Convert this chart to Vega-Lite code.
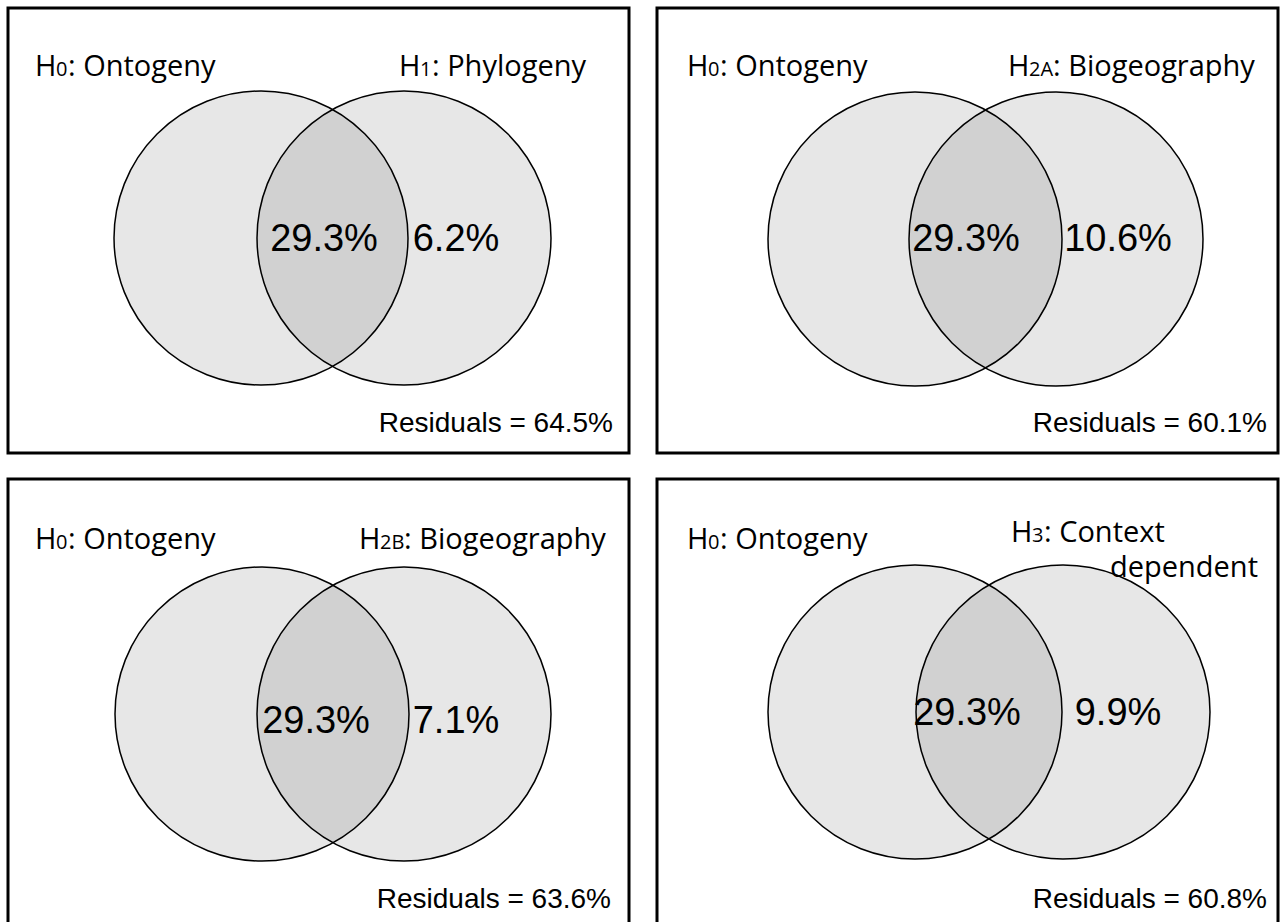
{
  "$schema": "https://vega.github.io/schema/vega-lite/v6.json",
  "background": "white",
  "padding": {"left": 6, "top": 6, "right": 0, "bottom": 0},
  "autosize": {"type": "pad"},
  "config": {
    "view": {"stroke": "black", "strokeWidth": 3}
  },
  "data": {
    "values": [
      {"panel": "A", "kind": "circle", "set": "Ontogeny", "x": 253, "y": 230},
      {"panel": "A", "kind": "circle", "set": "Phylogeny", "x": 396, "y": 230},
      {"panel": "B", "kind": "circle", "set": "Ontogeny", "x": 258, "y": 231},
      {"panel": "B", "kind": "circle", "set": "Biogeography A", "x": 399, "y": 231},
      {"panel": "C", "kind": "circle", "set": "Ontogeny", "x": 254, "y": 235},
      {"panel": "C", "kind": "circle", "set": "Biogeography B", "x": 396, "y": 235},
      {"panel": "D", "kind": "circle", "set": "Ontogeny", "x": 258, "y": 233},
      {"panel": "D", "kind": "circle", "set": "Context dependent", "x": 406, "y": 233},

      {"panel": "A", "kind": "label", "part": "H", "text": "H", "x": 27, "y": 68},
      {"panel": "A", "kind": "label", "part": "sub", "text": "0", "x": 48, "y": 68},
      {"panel": "A", "kind": "label", "part": "rest", "text": ": Ontogeny", "x": 60, "y": 68},
      {"panel": "A", "kind": "label", "part": "H", "text": "H", "x": 391, "y": 68},
      {"panel": "A", "kind": "label", "part": "sub", "text": "1", "x": 412, "y": 68},
      {"panel": "A", "kind": "label", "part": "rest", "text": ": Phylogeny", "x": 424, "y": 68},

      {"panel": "B", "kind": "label", "part": "H", "text": "H", "x": 30, "y": 68},
      {"panel": "B", "kind": "label", "part": "sub", "text": "0", "x": 51, "y": 68},
      {"panel": "B", "kind": "label", "part": "rest", "text": ": Ontogeny", "x": 63, "y": 68},
      {"panel": "B", "kind": "label", "part": "H", "text": "H", "x": 351, "y": 68},
      {"panel": "B", "kind": "label", "part": "sub", "text": "2A", "x": 372, "y": 68},
      {"panel": "B", "kind": "label", "part": "rest", "text": ": Biogeography", "x": 396, "y": 68},

      {"panel": "C", "kind": "label", "part": "H", "text": "H", "x": 27, "y": 70},
      {"panel": "C", "kind": "label", "part": "sub", "text": "0", "x": 48, "y": 70},
      {"panel": "C", "kind": "label", "part": "rest", "text": ": Ontogeny", "x": 60, "y": 70},
      {"panel": "C", "kind": "label", "part": "H", "text": "H", "x": 351, "y": 70},
      {"panel": "C", "kind": "label", "part": "sub", "text": "2B", "x": 372, "y": 70},
      {"panel": "C", "kind": "label", "part": "rest", "text": ": Biogeography", "x": 396, "y": 70},

      {"panel": "D", "kind": "label", "part": "H", "text": "H", "x": 30, "y": 70},
      {"panel": "D", "kind": "label", "part": "sub", "text": "0", "x": 51, "y": 70},
      {"panel": "D", "kind": "label", "part": "rest", "text": ": Ontogeny", "x": 63, "y": 70},
      {"panel": "D", "kind": "label", "part": "H", "text": "H", "x": 354, "y": 63},
      {"panel": "D", "kind": "label", "part": "sub", "text": "3", "x": 375, "y": 63},
      {"panel": "D", "kind": "label", "part": "rest", "text": ": Context", "x": 387, "y": 63},
      {"panel": "D", "kind": "label", "part": "rest", "text": "dependent", "x": 453, "y": 98},

      {"panel": "A", "kind": "pct", "text": "29.3%", "x": 316, "y": 232},
      {"panel": "A", "kind": "pct", "text": "6.2%", "x": 448, "y": 232},
      {"panel": "B", "kind": "pct", "text": "29.3%", "x": 309, "y": 232},
      {"panel": "B", "kind": "pct", "text": "10.6%", "x": 461, "y": 232},
      {"panel": "C", "kind": "pct", "text": "29.3%", "x": 308, "y": 243},
      {"panel": "C", "kind": "pct", "text": "7.1%", "x": 448, "y": 243},
      {"panel": "D", "kind": "pct", "text": "29.3%", "x": 310, "y": 235},
      {"panel": "D", "kind": "pct", "text": "9.9%", "x": 461, "y": 235},

      {"panel": "A", "kind": "resid", "text": "Residuals = 64.5%", "x": 605, "y": 416},
      {"panel": "B", "kind": "resid", "text": "Residuals = 60.1%", "x": 610, "y": 416},
      {"panel": "C", "kind": "resid", "text": "Residuals = 63.6%", "x": 603, "y": 421},
      {"panel": "D", "kind": "resid", "text": "Residuals = 60.8%", "x": 610, "y": 421}
    ]
  },
  "transform": [
    {"calculate": "datum.panel === 'A' || datum.panel === 'B' ? 'top' : 'bottom'", "as": "panelRow"},
    {"calculate": "datum.panel === 'A' || datum.panel === 'C' ? 'left' : 'right'", "as": "panelCol"}
  ],
  "facet": {
    "row": {"field": "panelRow", "type": "nominal", "sort": ["top", "bottom"], "title": null, "header": {"labels": false, "title": null}},
    "column": {"field": "panelCol", "type": "nominal", "sort": ["left", "right"], "title": null, "header": {"labels": false, "title": null}}
  },
  "spacing": {"row": 22, "column": 24},
  "spec": {
    "width": 621,
    "height": 445,
    "encoding": {
      "x": {"field": "x", "type": "quantitative", "scale": {"domain": [0, 621], "nice": false, "zero": false}, "axis": null},
      "y": {"field": "y", "type": "quantitative", "scale": {"domain": [0, 445], "nice": false, "zero": false, "reverse": true}, "axis": null}
    },
    "layer": [
      {
        "transform": [{"filter": "datum.kind === 'circle'"}],
        "mark": {"type": "point", "shape": "circle", "size": 86436, "filled": true, "fill": "black", "fillOpacity": 0.095, "stroke": "black", "strokeWidth": 1.5, "strokeOpacity": 1, "opacity": 1}
      },
      {
        "transform": [{"filter": "datum.kind === 'label' && datum.part !== 'sub'"}],
        "mark": {"type": "text", "align": "left", "baseline": "alphabetic", "font": "Open Sans", "fontSize": 29, "color": "black"},
        "encoding": {"text": {"field": "text"}}
      },
      {
        "transform": [{"filter": "datum.kind === 'label' && datum.part === 'sub'"}],
        "mark": {"type": "text", "align": "left", "baseline": "alphabetic", "font": "Open Sans", "fontSize": 20, "color": "black"},
        "encoding": {"text": {"field": "text"}}
      },
      {
        "transform": [{"filter": "datum.kind === 'pct'"}],
        "mark": {"type": "text", "align": "center", "baseline": "middle", "font": "Liberation Sans", "fontSize": 38, "color": "black"},
        "encoding": {"text": {"field": "text"}}
      },
      {
        "transform": [{"filter": "datum.kind === 'resid'"}],
        "mark": {"type": "text", "align": "right", "baseline": "middle", "font": "Liberation Sans", "fontSize": 28, "color": "black"},
        "encoding": {"text": {"field": "text"}}
      }
    ]
  }
}
